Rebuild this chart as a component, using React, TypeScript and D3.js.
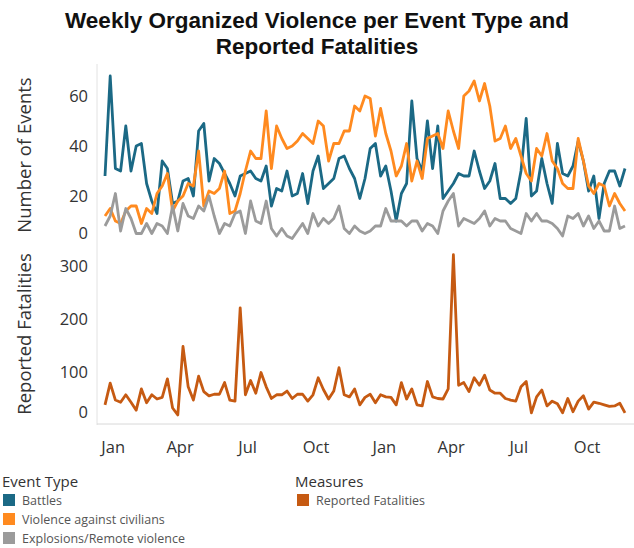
import React from 'react';
import * as d3 from 'd3';

// weekly values, first week starting 2017-12-21
const battles = [28, 68, 31, 30, 48, 30, 40, 41, 25, 18, 13, 34, 31, 17, 18, 26, 27, 20, 46, 49, 26, 35, 33, 29, 25, 20, 28, 29, 30, 27, 26, 32,
  16, 23, 22, 30, 20, 21, 29, 17, 30, 36, 23, 25, 27, 35, 36, 31, 27, 19, 27, 39, 41, 28, 32, 22, 10, 21, 25, 58, 35, 30, 50, 31, 48,
  19, 22, 25, 29, 28, 28, 38, 30, 23, 26, 33, 19, 19, 17, 19, 30, 51, 20, 22, 35, 25, 17, 41, 29, 28, 32, 42, 34, 22, 28, 11, 25, 30, 30, 24, 31];
const civilians = [12, 15, 10, 9, 14, 16, 16, 9, 15, 13, 21, 24, 29, 14, 18, 20, 25, 24, 38, 16, 22, 21, 23, 30, 13, 14, 21, 30, 38, 35, 35, 54,
  31, 48, 43, 39, 40, 42, 45, 43, 41, 50, 48, 34, 41, 41, 46, 46, 56, 54, 60, 59, 44, 55, 45, 38, 28, 32, 41, 26, 34,
  27, 43, 44, 45, 39, 54, 46, 39, 60, 62, 66, 58, 65, 56, 42, 43, 48, 39, 43, 36, 29, 26, 39, 36, 45, 34, 31, 25, 23, 23, 43, 34, 24, 21, 25, 24, 16, 21, 17, 14];
const explosions = [8, 12, 21, 6, 15, 11, 5, 5, 9, 5, 9, 8, 5, 16, 6, 17, 12, 11, 16, 14, 20, 12, 5, 9, 8, 13, 14, 5, 18, 10, 9, 18,
  7, 4, 7, 4, 3, 6, 9, 5, 13, 8, 11, 9, 11, 16, 7, 5, 8, 6, 5, 6, 8, 8, 15, 10, 10, 10, 8, 10, 10,
  6, 9, 8, 5, 14, 18, 21, 8, 11, 10, 9, 11, 14, 8, 11, 10, 10, 7, 6, 5, 13, 10, 13, 10, 10, 9, 7, 4, 12, 11, 13, 8, 12, 7, 10, 6, 6, 16, 7, 8];
const fatalities = [38, 79, 47, 43, 57, 43, 28, 68, 42, 57, 49, 52, 87, 32, 19, 148, 72, 47, 92, 63, 55, 58, 58, 80, 47, 45, 221, 57, 84, 60,
  99, 72, 50, 57, 57, 64, 50, 58, 58, 45, 57, 89, 67, 49, 64, 108, 57, 53, 68, 38, 52,
  58, 42, 57, 53, 52, 38, 80, 49, 68, 38, 36, 82, 53, 50, 49, 68, 321, 75, 80, 63, 89, 75, 94, 66, 60, 60, 50, 47, 45, 72,
  82, 23, 53, 66, 36, 45, 40, 23, 50, 25, 45, 55, 30, 43, 41, 38, 35, 36, 41, 23];

const eventTypes = ['Battles', 'Violence against civilians', 'Explosions/Remote violence'];
const eventColors = ['#1b6985', '#ff8a1f', '#9b9b9b'];
const fatalColor = '#c65a12';
const topTicks = [0, 20, 40, 60];
const bottomTicks = [0, 100, 200, 300];

const start = new Date(2017, 11, 21);
const dates = battles.map((_, i) => d3.timeDay.offset(start, i * 7));

const FONT = "'Open Sans', sans-serif";

export default function App() {
  const x = d3.scaleTime().domain([dates[0], dates[dates.length - 1]]).range([105, 625]);
  const topBottom = 246;
  const botBottom = 425;
  const yTop = d3.scaleLinear().domain([0, 70]).range([topBottom, 71]);
  const yBot = d3.scaleLinear().domain([0, 330]).range([botBottom, 250]);

  const lineTop = d3.line<number>().x((d, i) => x(dates[i])).y((d) => yTop(d));
  const lineBot = d3.line<number>().x((d, i) => x(dates[i])).y((d) => yBot(d));

  const monthTicks = x.ticks(d3.timeMonth.every(3)!);
  const series = [battles, civilians, explosions];

  return (
    <svg width={634} height={548} style={{ position: 'absolute', left: 0, top: 0, background: '#fff' }}>
      <text x={317} y={28} textAnchor="middle" fontFamily="'Liberation Sans', Arial, sans-serif" fontWeight="bold" fontSize={22.5} fill="#111">
        Weekly Organized Violence per Event Type and
      </text>
      <text x={317} y={54} textAnchor="middle" fontFamily="'Liberation Sans', Arial, sans-serif" fontWeight="bold" fontSize={22.5} fill="#111">
        Reported Fatalities
      </text>

      {/* axis lines */}
      <line x1={97} x2={97} y1={64} y2={botBottom} stroke="#e2e2e2" />
      <line x1={97} x2={634} y1={botBottom - 1} y2={botBottom - 1} stroke="#d8d8d8" />

      {/* y axis titles */}
      <text transform="translate(31,155) rotate(-90)" textAnchor="middle" fontFamily={FONT} fontSize={18.5} fill="#333">
        Number of Events
      </text>
      <text transform="translate(31,334) rotate(-90)" textAnchor="middle" fontFamily={FONT} fontSize={18.5} fill="#333">
        Reported Fatalities
      </text>

      {topTicks.map((t) => (
        <text key={'t' + t} x={88} y={Math.min(yTop(t), topBottom - 13)} dy="0.35em" textAnchor="end" fontFamily={FONT} fontSize={16.5} fill="#333">
          {t}
        </text>
      ))}
      {bottomTicks.map((t) => (
        <text key={'b' + t} x={88} y={Math.min(yBot(t), botBottom - 13)} dy="0.35em" textAnchor="end" fontFamily={FONT} fontSize={16.5} fill="#333">
          {t}
        </text>
      ))}

      {series.map((s, k) => (
        <path key={k} d={lineTop(s) || ''} fill="none" stroke={eventColors[k]} strokeWidth={2.8} strokeLinejoin="round" />
      ))}
      <path d={lineBot(fatalities) || ''} fill="none" stroke={fatalColor} strokeWidth={2.8} strokeLinejoin="round" />

      {monthTicks.map((d) => (
        <text key={d.getTime()} x={x(d)} y={453} textAnchor="middle" fontFamily={FONT} fontSize={16.5} fill="#333">
          {d3.timeFormat('%b')(d)}
        </text>
      ))}

      {/* legends */}
      <text x={2} y={487} fontFamily={FONT} fontSize={15} fill="#333">Event Type</text>
      {eventTypes.map((name, i) => (
        <g key={name} transform={`translate(3,${494 + i * 19})`}>
          <rect width={12} height={12} fill={eventColors[i]} />
          <text x={19} y={10.5} fontFamily={FONT} fontSize={12.5} fill="#555">{name}</text>
        </g>
      ))}
      <text x={295} y={487} fontFamily={FONT} fontSize={15} fill="#333">Measures</text>
      <g transform="translate(297,494)">
        <rect width={12} height={12} fill={fatalColor} />
        <text x={19} y={10.5} fontFamily={FONT} fontSize={12.5} fill="#555">Reported Fatalities</text>
      </g>
    </svg>
  );
}
